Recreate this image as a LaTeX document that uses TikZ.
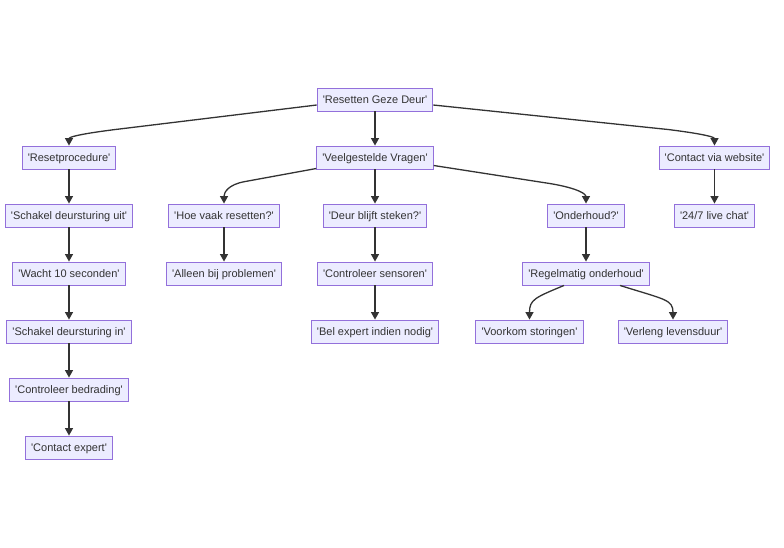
\documentclass[tikz,border=0pt]{standalone}
\usepackage{fontspec}
\setmainfont{Liberation Sans}
\usetikzlibrary{arrows.meta,calc}
\definecolor{nfill}{HTML}{ECECFF}
\definecolor{nborder}{HTML}{9370DB}
\definecolor{ntext}{HTML}{333333}
\definecolor{edge}{HTML}{333333}
\newcommand\qt[1]{\textquotesingle#1\textquotesingle}
\tikzset{
  box/.style={draw=nborder,fill=nfill,line width=0.9pt,text=ntext,
    font=\fontsize{11pt}{13pt}\selectfont,minimum height=23pt,
    text height=9pt,text depth=1.5pt,
    inner xsep=5.6pt,inner ysep=0pt},
  arr/.style={draw=edge,line width=1.3pt,-{Triangle[length=7.5pt,width=8pt]}}
}
\begin{document}
\begin{tikzpicture}[x=1pt,y=-1pt]
\useasboundingbox (0,0) rectangle (784,547);
\node[box] (R)  at (375,99.5) {\qt{Resetten Geze Deur}};
\node[box] (RP) at (69,157.5) {\qt{Resetprocedure}};
\node[box] (VV) at (375,157.5) {\qt{Veelgestelde Vragen}};
\node[box] (CW) at (714.5,157.5) {\qt{Contact via website}};
\node[box] (SU) at (69,215.5) {\qt{Schakel deursturing uit}};
\node[box] (H)  at (224,215.5) {\qt{Hoe vaak resetten?}};
\node[box] (DB) at (375,215.5) {\qt{Deur blijft steken?}};
\node[box] (O)  at (586,215.5) {\qt{Onderhoud?}};
\node[box] (LC) at (714.5,215.5) {\qt{24/7 live chat}};
\node[box] (W)  at (69,273.5) {\qt{Wacht 10 seconden}};
\node[box] (A)  at (224,273.5) {\qt{Alleen bij problemen}};
\node[box] (CS) at (375,273.5) {\qt{Controleer sensoren}};
\node[box] (RO) at (586,273.5) {\qt{Regelmatig onderhoud}};
\node[box] (SI) at (69,331.5) {\qt{Schakel deursturing in}};
\node[box] (BE) at (375,331.5) {\qt{Bel expert indien nodig}};
\node[box] (VS) at (529.5,331.5) {\qt{Voorkom storingen}};
\node[box] (VL) at (673,331.5) {\qt{Verleng levensduur}};
\node[box] (CB) at (69,389.5) {\qt{Controleer bedrading}};
\node[box] (CE) at (69,447.5) {\qt{Contact expert}};
% straight edges
\draw[arr] (R) -- (VV);
\draw[arr] (RP) -- (SU);
\draw[arr] (SU) -- (W);
\draw[arr] (W) -- (SI);
\draw[arr] (SI) -- (CB);
\draw[arr] (CB) -- (CE);
\draw[arr] (VV) -- (DB);
\draw[arr] (H) -- (A);
\draw[arr] (DB) -- (CS);
\draw[arr] (CS) -- (BE);
\draw[arr] (O) -- (RO);
\draw[arr] (CW) -- (LC);
% curved edges
\draw[arr] ($(R.west)+(0,5.5)$) -- ($(RP.north)+(46,-16)$)
  .. controls ($(RP.north)+(6,-11)$) and ($(RP.north)+(0,-8)$) .. (RP.north);
\draw[arr] ($(R.east)+(0,5.5)$) -- ($(CW.north)+(-46,-16)$)
  .. controls ($(CW.north)+(-6,-11)$) and ($(CW.north)+(0,-8)$) .. (CW.north);
\draw[arr] ($(VV.west)+(0,11)$) -- ($(H.north)+(21,-22)$)
  .. controls ($(H.north)+(4,-19)$) and ($(H.north)+(0,-11)$) .. (H.north);
\draw[arr] ($(VV.east)+(0,8)$) -- ($(O.north)+(-36,-20)$)
  .. controls ($(O.north)+(-6,-15)$) and ($(O.north)+(0,-9)$) .. (O.north);
\draw[arr] ($(RO.south)+(-22,0)$)
  .. controls ($(VS.north)+(5.5,-22)$) and ($(VS.north)+(0,-20)$) .. (VS.north);
\draw[arr] ($(RO.south)+(34,0)$)
  .. controls ($(VL.north)+(-8,-20)$) and ($(VL.north)+(0,-20)$) .. (VL.north);
\end{tikzpicture}
\end{document}
